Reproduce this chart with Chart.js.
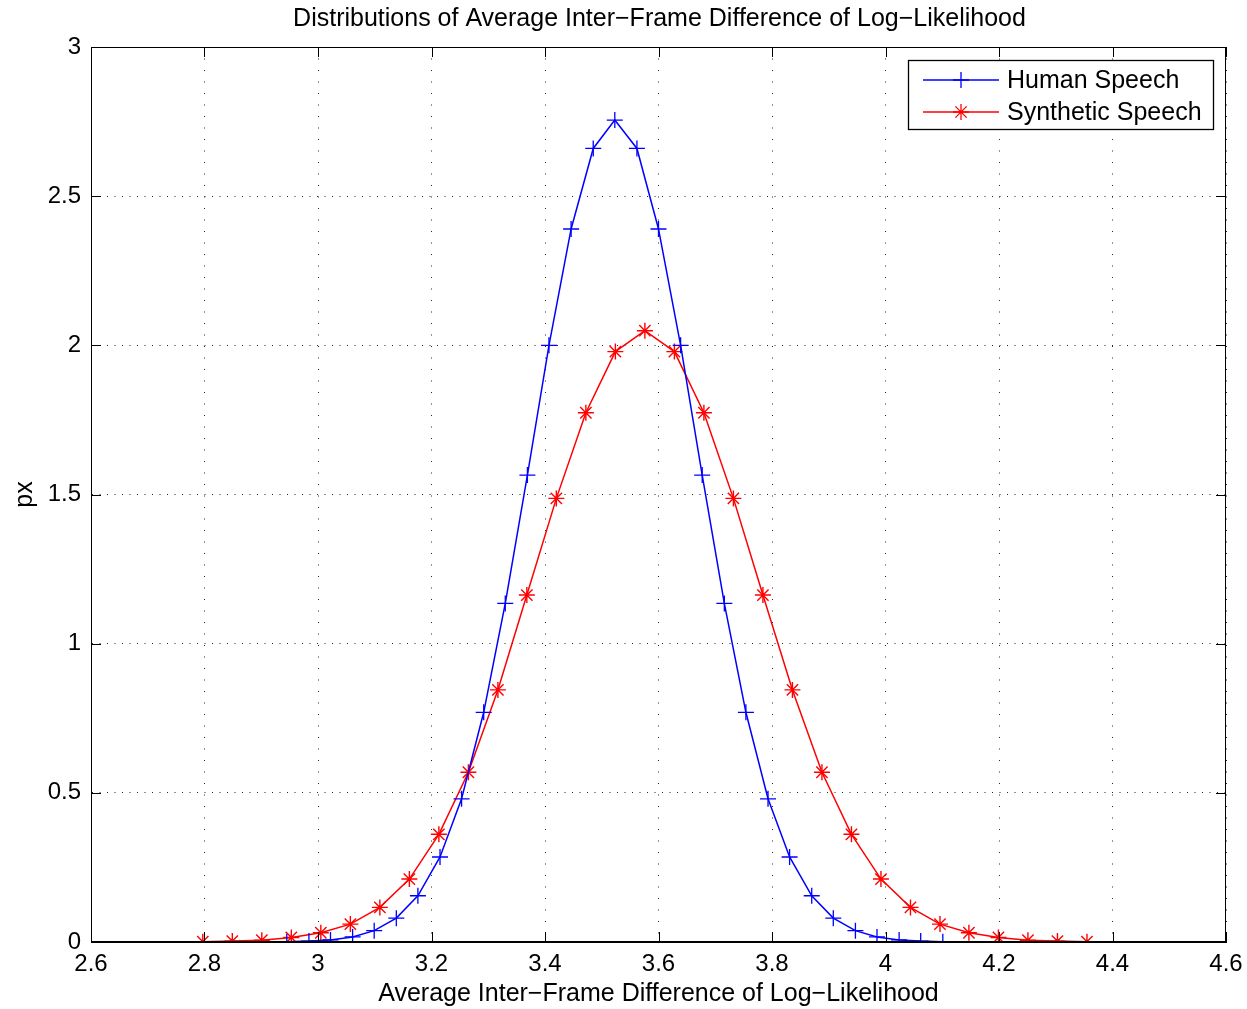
<!DOCTYPE html>
<html>
<head>
<meta charset="utf-8">
<script src="https://cdn.jsdelivr.net/npm/chart.js@4/dist/chart.umd.min.js"></script>
<style>
  html, body { margin: 0; padding: 0; background: #fff; }
  #wrap { width: 1247px; height: 1009px; }
</style>
</head>
<body>
<div id="wrap"><canvas id="c" width="1247" height="1009"></canvas></div>
<script>
// ---- data ----
const chartTitle = "Distributions of Average Inter\u2212Frame Difference of Log\u2212Likelihood";
const xAxisLabel = "Average Inter\u2212Frame Difference of Log\u2212Likelihood";
const yAxisLabel = "px";
const seriesNames = ["Human Speech", "Synthetic Speech"];

const humanX = [2.945, 2.984, 3.022, 3.061, 3.099, 3.138, 3.176, 3.215, 3.253, 3.292,
                3.330, 3.369, 3.407, 3.446, 3.485, 3.523, 3.562, 3.600, 3.639, 3.677,
                3.716, 3.754, 3.793, 3.831, 3.870, 3.908, 3.947, 3.985, 4.024, 4.062, 4.101];
const humanY = [0.001, 0.003, 0.007, 0.017, 0.038, 0.080, 0.155, 0.285, 0.480, 0.770,
                1.135, 1.565, 2.000, 2.390, 2.660, 2.755, 2.660, 2.390, 2.000, 1.565,
                1.135, 0.770, 0.480, 0.285, 0.155, 0.080, 0.038, 0.017, 0.007, 0.003, 0.001];

const synthX = [2.797, 2.849, 2.901, 2.953, 3.005, 3.057, 3.109, 3.161, 3.213, 3.265,
                3.317, 3.368, 3.420, 3.472, 3.524, 3.576, 3.628, 3.680, 3.732, 3.784,
                3.836, 3.888, 3.940, 3.992, 4.044, 4.096, 4.147, 4.199, 4.251, 4.303, 4.355];
const synthY = [0.001, 0.003, 0.006, 0.015, 0.031, 0.060, 0.116, 0.211, 0.361, 0.569,
                0.845, 1.163, 1.487, 1.774, 1.979, 2.049, 1.979, 1.774, 1.487, 1.163,
                0.845, 0.569, 0.361, 0.211, 0.116, 0.060, 0.031, 0.015, 0.006, 0.003, 0.001];

const xTicks = [2.6, 2.8, 3.0, 3.2, 3.4, 3.6, 3.8, 4.0, 4.2, 4.4, 4.6];
const yTicks = [0, 0.5, 1, 1.5, 2, 2.5, 3];

// ---- build ----
const FONT = "'Liberation Sans', Arial, Helvetica, sans-serif";
const toPts = (xs, ys) => xs.map((x, i) => ({ x: x, y: ys[i] }));

function fmt(v) { return String(+(+v).toFixed(2)); }

const framePlugin = {
  id: 'matlabFrame',
  afterDraw(chart) {
    const ctx = chart.ctx;
    const a = chart.chartArea;
    const xs = chart.scales.x, ys = chart.scales.y;
    ctx.save();
    ctx.strokeStyle = '#000';
    ctx.lineWidth = 1;
    // frame
    ctx.strokeRect(Math.round(a.left) + 0.5, Math.round(a.top) + 0.5,
                   Math.round(a.right - a.left) - 1, Math.round(a.bottom - a.top) - 1);
    // inward ticks
    const TL = 10;
    ctx.beginPath();
    xTicks.forEach(v => {
      const px = Math.round(xs.getPixelForValue(v)) + 0.5;
      ctx.moveTo(px, a.bottom); ctx.lineTo(px, a.bottom - TL);
      ctx.moveTo(px, a.top); ctx.lineTo(px, a.top + TL);
    });
    yTicks.forEach(v => {
      const py = Math.round(ys.getPixelForValue(v)) + 0.5;
      ctx.moveTo(a.left, py); ctx.lineTo(a.left + TL, py);
      ctx.moveTo(a.right, py); ctx.lineTo(a.right - TL, py);
    });
    ctx.stroke();

    // title
    ctx.fillStyle = '#000';
    ctx.font = "25px " + FONT;
    ctx.textAlign = 'center';
    ctx.textBaseline = 'middle';
    ctx.fillText(chartTitle, (a.left + a.right) / 2 + 1, 19);

    // legend
    const lx = 908.5, ly = 60.5, lw = 305, lh = 69;
    ctx.fillStyle = '#fff';
    ctx.fillRect(lx, ly, lw, lh);
    ctx.strokeStyle = '#000';
    ctx.lineWidth = 1.3;
    ctx.strokeRect(lx, ly, lw, lh);
    const rows = [
      { name: seriesNames[0], color: '#0000ff', style: 'cross', y: 80 },
      { name: seriesNames[1], color: '#ff0000', style: 'star', y: 112 }
    ];
    rows.forEach(r => {
      ctx.strokeStyle = r.color;
      ctx.lineWidth = 1.3;
      ctx.beginPath();
      ctx.moveTo(923, r.y); ctx.lineTo(999, r.y);
      ctx.stroke();
      Chart.helpers.drawPoint(ctx, { pointStyle: r.style, radius: 8, borderWidth: 1.3, rotation: 0 }, 961, r.y);
      ctx.fillStyle = '#000';
      ctx.font = "25px " + FONT;
      ctx.textAlign = 'left';
      ctx.textBaseline = 'middle';
      ctx.fillText(r.name, 1007, r.y + 1);
    });
    ctx.restore();
  }
};

const ctx = document.getElementById('c').getContext('2d');
new Chart(ctx, {
  type: 'line',
  data: {
    datasets: [
      {
        label: seriesNames[0],
        data: toPts(humanX, humanY),
        borderColor: '#0000ff',
        backgroundColor: 'transparent',
        borderWidth: 1.5,
        pointStyle: 'cross',
        pointRadius: 8,
        pointBorderWidth: 1.3,
        pointBorderColor: '#0000ff',
        tension: 0,
        fill: false
      },
      {
        label: seriesNames[1],
        data: toPts(synthX, synthY),
        borderColor: '#ff0000',
        backgroundColor: 'transparent',
        borderWidth: 1.5,
        pointStyle: 'star',
        pointRadius: 8,
        pointBorderWidth: 1.4,
        pointBorderColor: '#ff0000',
        tension: 0,
        fill: false
      }
    ]
  },
  options: {
    responsive: false,
    animation: false,
    events: [],
    layout: { padding: { top: 47, right: 21, left: 0, bottom: 0 } },
    plugins: {
      legend: { display: false },
      title: { display: false },
      tooltip: { enabled: false }
    },
    scales: {
      x: {
        type: 'linear',
        min: 2.6, max: 4.6,
        afterBuildTicks: s => { s.ticks = xTicks.map(v => ({ value: v })); },
        afterFit: s => { s.height = 67; s.paddingLeft = 0; s.paddingRight = 0; },
        ticks: {
          callback: v => fmt(v),
          font: { family: FONT, size: 24 },
          color: '#000',
          padding: 8,
          maxRotation: 0,
          autoSkip: false
        },
        grid: { color: 'rgba(0,0,0,0.85)', lineWidth: 1, drawTicks: false },
        border: { display: true, color: '#000', width: 1, dash: [1, 10.5] },
        title: {
          display: true, text: xAxisLabel, color: '#000',
          font: { family: FONT, size: 25 },
          padding: { top: 0, bottom: 0 }
        }
      },
      y: {
        type: 'linear',
        min: 0, max: 3,
        afterBuildTicks: s => { s.ticks = yTicks.map(v => ({ value: v })); },
        afterFit: s => { s.width = 91; s.paddingTop = 0; s.paddingBottom = 0; },
        ticks: {
          callback: v => fmt(v),
          font: { family: FONT, size: 24 },
          color: '#000',
          padding: 10,
          autoSkip: false
        },
        grid: { color: 'rgba(0,0,0,0.85)', lineWidth: 1, drawTicks: false },
        border: { display: true, color: '#000', width: 1, dash: [1, 6.5] },
        title: {
          display: true, text: yAxisLabel, color: '#000',
          font: { family: FONT, size: 25 },
          padding: { top: 10, bottom: 0 }
        }
      }
    }
  },
  plugins: [framePlugin]
});
</script>
</body>
</html>
